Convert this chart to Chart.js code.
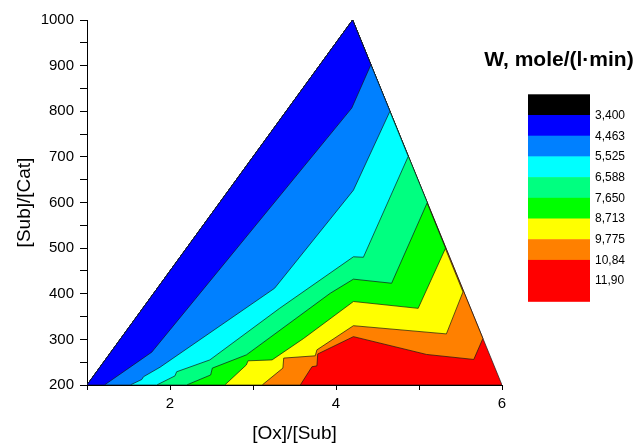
<!DOCTYPE html>
<html><head><meta charset="utf-8">
<script src="https://cdn.jsdelivr.net/npm/chart.js@4.4.1/dist/chart.umd.min.js"></script>
<style>html,body{margin:0;padding:0;background:#fff;}</style>
</head><body>
<canvas id="c" width="638" height="444"></canvas>
<script>
// Triangle domain vertices ([Ox]/[Sub], [Sub]/[Cat])
const triangle = [[1,200],[4.2,1000],[6,200]];
// Isolines (boundaries between W bands)
const iso_4463 = [[1.21,200],[1.78,272],[4.19,807],[4.42,902]];
const iso_5525 = [[1.52,200],[1.66,212],[1.68,218],[1.88,239],[3.26,412],[4.21,627],[4.65,800]];
const iso_6588 = [[1.84,200],[2.06,220],[2.08,229],[2.48,255],[3.32,368],[4.21,481],[4.33,480],[4.87,701]];
const iso_7650 = [[2.20,200],[2.49,222],[2.51,237],[2.92,266],[3.93,401],[4.21,432],[4.67,423],[5.10,600]];
const iso_8713 = [[2.66,200],[2.92,244],[2.94,253],[3.23,255],[3.61,302],[4.21,383],[4.99,368],[5.32,500]];
const iso_9775 = [[3.11,200],[3.36,237],[3.37,259],[3.75,264],[3.77,277],[4.21,330],[5.33,312],[5.53,404]];
const iso_1084 = [[3.57,200],[3.71,240],[3.77,242],[3.78,268],[4.21,306],[5.09,267],[5.66,256],[5.77,302]];
// Colour scale
const levelLabels = ['3,400','4,463','5,525','6,588','7,650','8,713','9,775','10,84','11,90'];
const bandColors = ['#000000','#0000ff','#0080ff','#00ffff','#00ff80','#00ff00','#ffff00','#ff8000','#ff0000'];
const xTicks = [1,2,3,4,5,6];
const xLabelled = [2,4,6];

const FONT = '"Liberation Sans", Arial, sans-serif';
const toPts = a => a.map(p => ({x:p[0], y:p[1]}));
const regionAbove = iso => toPts([triangle[0], ...iso, triangle[1], triangle[0]]);

const regions = [
  [iso_4463, bandColors[1]],
  [iso_5525, bandColors[2]],
  [iso_6588, bandColors[3]],
  [iso_7650, bandColors[4]],
  [iso_8713, bandColors[5]],
  [iso_9775, bandColors[6]],
  [iso_1084, bandColors[7]],
];
const datasets = regions.map(([iso, col]) => ({
  data: regionAbove(iso), backgroundColor: col
}));
datasets.push({data: toPts([...triangle, triangle[0]]), backgroundColor: bandColors[8]});
datasets.forEach(d => Object.assign(d, {
  showLine: true, fill: 'shape', pointRadius: 0, pointHoverRadius: 0,
  borderColor: 'rgba(20,20,20,0.85)', borderWidth: 0.8, tension: 0
}));

const colorbar = {
  id: 'colorbar',
  afterDraw(chart) {
    const ctx = chart.ctx;
    const x0 = 528, w = 62, top = 94.3, h = 20.7;
    const fills = [...bandColors, bandColors[bandColors.length - 1]];
    ctx.save();
    fills.forEach((c, i) => {
      ctx.fillStyle = c;
      ctx.fillRect(x0, top + i * h, w, h + 0.5);
    });
    ctx.fillStyle = '#000';
    ctx.font = '12px ' + FONT;
    ctx.textAlign = 'left';
    ctx.textBaseline = 'middle';
    levelLabels.forEach((t, i) => ctx.fillText(t, x0 + w + 5, top + (i + 1) * h + 0.5));
    ctx.font = 'bold 21px ' + FONT;
    ctx.textAlign = 'center';
    ctx.fillText('W, mole/(l\u00b7min)', 559, 60);
    ctx.restore();
  }
};

new Chart(document.getElementById('c'), {
  type: 'scatter',
  data: { datasets },
  plugins: [colorbar],
  options: {
    responsive: false, animation: false, devicePixelRatio: 1,
    layout: { padding: { left: 0, right: 136, top: 20, bottom: 0 } },
    plugins: { legend: { display: false }, tooltip: { enabled: false }, filler: { propagate: false } },
    scales: {
      x: {
        type: 'linear', min: 1, max: 6,
        afterFit: s => { s.height = 59; },
        afterBuildTicks: s => { s.ticks = xTicks.map(v => ({value: v})); },
        ticks: { color: '#000', font: { size: 15, family: FONT }, padding: 5,
                 callback: v => xLabelled.includes(v) ? String(v) : '' , maxRotation: 0, autoSkip: false },
        grid: { display: true, drawOnChartArea: false, drawTicks: true, tickLength: 5, tickColor: '#000', tickWidth: 1 },
        border: { display: true, color: '#000', width: 1 },
        title: { display: true, text: '[Ox]/[Sub]', color: '#000', font: { size: 19, family: FONT, lineHeight: 1 }, padding: { top: 0, bottom: 1 } }
      },
      y: {
        type: 'linear', min: 200, max: 1000,
        afterFit: s => { s.width = 87; },
        ticks: { stepSize: 50, color: '#000', font: { size: 15, family: FONT }, padding: 6,
                 callback: v => v % 100 === 0 ? String(v) : '', autoSkip: false },
        grid: { display: true, drawOnChartArea: false, drawTicks: true, tickLength: 7, tickColor: '#000', tickWidth: 1 },
        border: { display: true, color: '#000', width: 1 },
        title: { display: true, text: '[Sub]/[Cat]', color: '#000', font: { size: 19, family: FONT, lineHeight: 1 }, padding: { top: 15, bottom: 0 } }
      }
    }
  }
});
</script>
</body></html>
